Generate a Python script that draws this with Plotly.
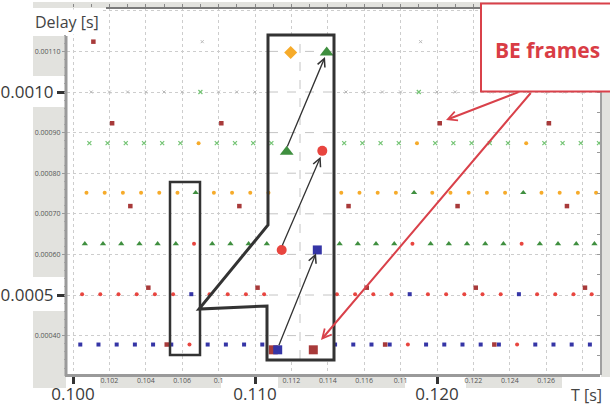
import plotly.graph_objects as go

# ---------------- data ----------------
# frame time T [s] and measured delay [s] per traffic class
gray_t = [0.101, 0.102, 0.103, 0.104, 0.105, 0.106, 0.108, 0.109, 0.110, 0.115, 0.116,
          0.117, 0.118, 0.120, 0.121, 0.122, 0.123, 0.124, 0.125, 0.126, 0.127, 0.128,
          0.1071, 0.1191]
gray_d = [0.00100, 0.00100, 0.00100, 0.00100, 0.00100, 0.00100, 0.00100, 0.00100, 0.00100,
          0.00100, 0.00100, 0.00100, 0.00100, 0.00100, 0.00100, 0.00100, 0.00100, 0.00100,
          0.00100, 0.00100, 0.00100, 0.00100, 0.001124, 0.001124]

greenx_t = [0.1009, 0.1019, 0.1029, 0.1039, 0.1049, 0.1059, 0.1079, 0.1089, 0.1099, 0.1109,
            0.1149, 0.1159, 0.1169, 0.1179, 0.1199, 0.1209, 0.1219, 0.1229, 0.1239, 0.1259,
            0.1269, 0.1279, 0.1289, 0.1070, 0.1190]
greenx_d = [0.000874, 0.000874, 0.000874, 0.000874, 0.000874, 0.000874, 0.000874, 0.000874,
            0.000874, 0.000874, 0.000874, 0.000874, 0.000874, 0.000874, 0.000874, 0.000874,
            0.000874, 0.000874, 0.000874, 0.000874, 0.000874, 0.000874, 0.000874,
            0.00100, 0.00100]

orange_t = [0.10074, 0.10174, 0.10274, 0.10374, 0.10474, 0.10574, 0.10774, 0.10874, 0.10974,
            0.11074, 0.11474, 0.11574, 0.11674, 0.11774, 0.11974, 0.12074, 0.12174, 0.12274,
            0.12374, 0.12574, 0.12674, 0.12774, 0.12874, 0.1069, 0.1189, 0.1249]
orange_d = [0.000752, 0.000752, 0.000752, 0.000752, 0.000752, 0.000752, 0.000752, 0.000752,
            0.000752, 0.000752, 0.000752, 0.000752, 0.000752, 0.000752, 0.000752, 0.000752,
            0.000752, 0.000752, 0.000752, 0.000752, 0.000752, 0.000752, 0.000752,
            0.000874, 0.000874, 0.000874]

greentri_t = [0.10065, 0.10165, 0.10265, 0.10365, 0.10465, 0.10565, 0.10765, 0.10865, 0.10965,
              0.11065, 0.11465, 0.11565, 0.11665, 0.11765, 0.11965, 0.12065, 0.12165, 0.12265,
              0.12365, 0.12565, 0.12665, 0.12765, 0.12865, 0.10674, 0.11874, 0.12474]
greentri_d = [0.000626, 0.000626, 0.000626, 0.000626, 0.000626, 0.000626, 0.000626, 0.000626,
              0.000626, 0.000626, 0.000626, 0.000626, 0.000626, 0.000626, 0.000626, 0.000626,
              0.000626, 0.000626, 0.000626, 0.000626, 0.000626, 0.000626, 0.000626,
              0.000752, 0.000752, 0.000752]

red_t = [0.1005, 0.1015, 0.1025, 0.1035, 0.1045, 0.1055, 0.1075, 0.1085, 0.1095, 0.1105,
         0.1145, 0.1155, 0.1165, 0.1175, 0.1195, 0.1205, 0.1215, 0.1225, 0.1235, 0.1255,
         0.1265, 0.1275, 0.1285, 0.10665, 0.11865, 0.12465, 0.1064, 0.1184, 0.1244]
red_d = [0.000502, 0.000502, 0.000502, 0.000502, 0.000502, 0.000502, 0.000502, 0.000502,
         0.000502, 0.000502, 0.000502, 0.000502, 0.000502, 0.000502, 0.000502, 0.000502,
         0.000502, 0.000502, 0.000502, 0.000502, 0.000502, 0.000502, 0.000502,
         0.000626, 0.000626, 0.000626, 0.000378, 0.000378, 0.000378]

blue_t = [0.1004, 0.1014, 0.1024, 0.1034, 0.1044, 0.1054, 0.1074, 0.1084, 0.1094, 0.1104,
          0.1144, 0.1154, 0.1164, 0.1174, 0.1194, 0.1204, 0.1214, 0.1224, 0.1234, 0.1254,
          0.1264, 0.1274, 0.1284, 0.1065, 0.1185, 0.1245]
blue_d = [0.000378, 0.000378, 0.000378, 0.000378, 0.000378, 0.000378, 0.000378, 0.000378,
          0.000378, 0.000378, 0.000378, 0.000378, 0.000378, 0.000378, 0.000378, 0.000378,
          0.000378, 0.000378, 0.000378, 0.000378, 0.000378, 0.000378, 0.000378,
          0.000502, 0.000502, 0.000502]

be_t = [0.10112, 0.10215, 0.10815, 0.12015, 0.12615, 0.10315, 0.10914, 0.11514, 0.12113,
        0.12714, 0.10414, 0.11014, 0.11614, 0.12213, 0.12813, 0.10515, 0.11715, 0.12315]
be_d = [0.001124, 0.000923, 0.000923, 0.000923, 0.000923, 0.000719, 0.000719, 0.000719,
        0.000719, 0.000719, 0.000518, 0.000518, 0.000518, 0.000518, 0.000518,
        0.000378, 0.000378, 0.000378]

# magnified view (inset)
inset_orange_t = [0.111962]
inset_orange_d = [0.001097]
inset_green_t = [0.113940, 0.111742]
inset_green_d = [0.001097, 0.000853]
inset_red_t = [0.113698, 0.111467]
inset_red_d = [0.000855, 0.000611]
inset_be_t = [0.111005, 0.113203]
inset_be_d = [0.000365, 0.000365]
inset_blue_t = [0.113423, 0.111247]
inset_blue_d = [0.000611, 0.000365]

# axis ticks
big_x_ticks = [0.100, 0.110, 0.120]
big_x_text = ["0.100", "0.110", "0.120"]
small_x_ticks = [0.102, 0.104, 0.106, 0.108, 0.112, 0.114, 0.116, 0.118, 0.122, 0.124, 0.126]
small_x_text = ["0.102", "0.104", "0.106", "0.1", "0.112", "0.114", "0.116", "0.11",
                "0.122", "0.124", "0.126"]
big_y_ticks = [0.0005, 0.0010]
big_y_text = ["0.0005", "0.0010"]
small_y_ticks = [0.0004, 0.0006, 0.0007, 0.0008, 0.0009, 0.0011]
small_y_text = ["0.00040", "0.00060", "0.00070", "0.00080", "0.00090", "0.00110"]

# ---------------- layout geometry ----------------
W, H = 610, 407
ML, MR, MT, MB = 67, 10, 8, 32
PW, PH = W - ML - MR, H - MT - MB
X_RANGE = [0.0996703, 0.1289560]
Y_RANGE = [0.00030296, 0.00120690]


def px(x):
    return (x - ML) / PW


def py(y):
    return (H - MB - y) / PH


def dx(x):
    return X_RANGE[0] + (x - ML) / PW * (X_RANGE[1] - X_RANGE[0])


def dy(y):
    return Y_RANGE[0] + (H - MB - y) / PH * (Y_RANGE[1] - Y_RANGE[0])


BLUE = "#3535a6"
RED = "#e8453f"
DRED = "#a83a3a"
ORANGE = "#f6ab2a"
GTRI = "#3f8f3f"
GX = "#74c474"
GRAYM = "#b8b8b8"
GRID = "#cdcdcd"
BAND = "#e2e2de"
DARK = "#333333"
CALL = "#d9414a"

fig = go.Figure()


def add(t, d, symbol, size, color, lw=0, xa="x", ya="y"):
    fig.add_trace(go.Scatter(
        x=t, y=d, mode="markers", xaxis=xa, yaxis=ya,
        marker=dict(symbol=symbol, size=size, color=color,
                    line=dict(width=lw, color=color)),
        hoverinfo="skip", showlegend=False))


add(gray_t, gray_d, "x-thin", 3, GRAYM, lw=1)
add(greenx_t, greenx_d, "x-thin", 4, GX, lw=1.2)
add(orange_t, orange_d, "circle", 4, ORANGE)
add(greentri_t, greentri_d, "triangle-up", 5.5, GTRI)
add(red_t, red_d, "circle", 4, RED)
add(blue_t, blue_d, "square", 4, BLUE)
add(be_t, be_d, "square", 4.5, DRED)

add(inset_orange_t, inset_orange_d, "diamond", 10, ORANGE)
add(inset_green_t, inset_green_d, "triangle-up", 12, GTRI)
add(inset_red_t, inset_red_d, "circle", 10, RED)
add(inset_be_t, inset_be_d, "square", 9, DRED)
add(inset_blue_t, inset_blue_d, "square", 9, BLUE)

# empty traces so that the overlay axes get drawn
for xa, ya in [("x2", "y"), ("x3", "y"), ("x", "y2"), ("x", "y3")]:
    fig.add_trace(go.Scatter(x=[None], y=[None], xaxis=xa, yaxis=ya, mode="markers",
                             hoverinfo="skip", showlegend=False))

shapes = []
# grey label bands
for (x0, y0, x1, y1) in [(33, 36, 66, 76), (33, 107, 66, 277), (33, 311, 66, 388),
                         (100, 376.5, 221, 388), (278, 376.5, 405, 388),
                         (466, 376.5, 562, 388), (33, 2, 600, 8), (601, 91, 615, 377)]:
    shapes.append(dict(type="rect", xref="paper", yref="paper", layer="below",
                       x0=px(x0), x1=px(x1), y0=py(y1), y1=py(y0),
                       fillcolor=BAND, line=dict(width=0)))

# inset white panel hides the grid
shapes.append(dict(type="rect", xref="x", yref="y", layer="between",
                   x0=dx(268), x1=dx(334), y0=dy(360), y1=dy(35),
                   fillcolor="white", line=dict(width=0)))
for g in [0.0004, 0.0005, 0.0006, 0.0007, 0.0008, 0.0009, 0.0010, 0.0011]:
    shapes.append(dict(type="line", xref="x", yref="y", layer="between",
                       x0=dx(269), x1=dx(333), y0=g, y1=g,
                       line=dict(color="#c4c4c4", width=1, dash="dash")))
shapes.append(dict(type="line", xref="x", yref="y", layer="between",
                   x0=dx(300), x1=dx(300), y0=dy(359), y1=dy(36),
                   line=dict(color="#c4c4c4", width=1, dash="dash")))

# axis lines
shapes.append(dict(type="line", xref="paper", yref="paper", layer="above",
                   x0=px(66), x1=px(66), y0=py(376), y1=py(36),
                   line=dict(color="#9a9a9a", width=3)))
shapes.append(dict(type="line", xref="paper", yref="paper", layer="above",
                   x0=px(65), x1=px(600), y0=py(375.5), y1=py(375.5),
                   line=dict(color="#9a9a9a", width=3)))
shapes.append(dict(type="line", xref="paper", yref="paper", layer="above",
                   x0=px(106), x1=px(600), y0=py(8), y1=py(8),
                   line=dict(color="#7a7a7a", width=2)))

# small selection rectangle
shapes.append(dict(type="rect", xref="paper", yref="paper", layer="above",
                   x0=px(170), x1=px(200), y0=py(355), y1=py(182),
                   line=dict(color=DARK, width=2.5)))
# inset outline with funnel
pts = [(268, 35), (334, 35), (334, 360), (267, 360), (267, 306), (199, 309), (268, 225)]
path = "M " + " L ".join(f"{px(a):.5f},{py(b):.5f}" for a, b in pts) + " Z"
shapes.append(dict(type="path", xref="paper", yref="paper", layer="above", path=path,
                   line=dict(color=DARK, width=3)))
# callout box
shapes.append(dict(type="rect", xref="paper", yref="paper", layer="above",
                   x0=px(481), x1=px(616), y0=py(91.5), y1=py(3.5),
                   fillcolor="white", line=dict(color=CALL, width=2)))

annotations = [
    dict(xref="paper", yref="paper", x=px(33), y=py(22), xanchor="left", yanchor="middle",
         text="Delay [s]", showarrow=False, bgcolor="white",
         font=dict(size=16, color="#444", family="Open Sans")),
    dict(xref="paper", yref="paper", x=px(586), y=py(395), xanchor="center", yanchor="middle",
         text="T [s]", showarrow=False, font=dict(size=16, color="#444", family="Open Sans")),
    dict(xref="paper", yref="paper", x=px(547), y=py(50), xanchor="center", yanchor="middle",
         text="<b>BE frames</b>", showarrow=False,
         font=dict(size=21, color="#d93d45", family="Open Sans")),
]


def arrow(hx, hy, tx, ty, color, width, size):
    return dict(xref="paper", yref="paper", x=px(hx), y=py(hy), ax=tx - hx, ay=ty - hy,
                text="", showarrow=True, arrowhead=5, arrowsize=size, arrowwidth=width,
                arrowcolor=color, standoff=0, startstandoff=0)


annotations += [
    arrow(446, 120, 520, 91.5, CALL, 2, 0.9),
    arrow(321, 340, 532, 91.5, CALL, 2, 0.9),
    arrow(325, 57, 286.7, 148, DARK, 1.3, 1.2),
    arrow(320.7, 156.7, 281.7, 246.7, DARK, 1.3, 1.2),
    arrow(316, 253.3, 278.3, 346.7, DARK, 1.3, 1.2),
]

fig.update_layout(
    width=W, height=H, template="none", showlegend=False,
    margin=dict(l=ML, r=MR, t=MT, b=MB, pad=0),
    paper_bgcolor="white", plot_bgcolor="white",
    font=dict(family="Open Sans", color="#333"),
    xaxis=dict(range=X_RANGE, tickmode="array", tickvals=big_x_ticks, ticktext=big_x_text,
               ticks="outside", ticklen=8, tickwidth=3, tickcolor=DARK,
               ticklabelstandoff=-4,
               tickfont=dict(size=17, color="#3a3a3a"),
               showgrid=True, gridcolor=GRID, griddash="dot", gridwidth=1,
               zeroline=False, showline=False, automargin=False,
               minor=dict(tickmode="linear", tick0=0.1, dtick=0.002, showgrid=True,
                          gridcolor=GRID, griddash="dot", gridwidth=1, ticks="")),
    xaxis2=dict(overlaying="x", anchor="y", side="bottom", range=X_RANGE,
                tickmode="array", tickvals=small_x_ticks, ticktext=small_x_text,
                ticks="", tickfont=dict(size=7, color="#555"),
                showgrid=False, zeroline=False, showline=False, automargin=False),
    xaxis3=dict(overlaying="x", anchor="y", side="top", range=X_RANGE,
                tickmode="linear", tick0=0.1, dtick=0.001, ticks="outside", ticklen=3,
                tickcolor="#888", showticklabels=False, showgrid=False, zeroline=False,
                showline=False, automargin=False),
    yaxis=dict(range=Y_RANGE, tickmode="array", tickvals=big_y_ticks, ticktext=big_y_text,
               ticks="outside", ticklen=9, tickwidth=3, tickcolor=DARK,
               tickfont=dict(size=17, color="#3a3a3a"),
               showgrid=True, gridcolor=GRID, griddash="dot", gridwidth=1,
               zeroline=False, showline=False, automargin=False,
               minor=dict(tickmode="linear", tick0=0.0003, dtick=0.0001, showgrid=True,
                          gridcolor=GRID, griddash="dot", gridwidth=1, ticks="")),
    yaxis2=dict(overlaying="y", anchor="x", side="left", range=Y_RANGE,
                tickmode="array", tickvals=small_y_ticks, ticktext=small_y_text,
                ticks="outside", ticklen=4, tickcolor="#999",
                tickfont=dict(size=7, color="#555"),
                minor=dict(tickmode="linear", tick0=0.0003, dtick=0.00002, ticks="outside",
                           ticklen=2, tickcolor="#aaa"),
                showgrid=False, zeroline=False, showline=False, automargin=False),
    yaxis3=dict(overlaying="y", anchor="x", side="right", range=Y_RANGE,
                tickmode="linear", tick0=0.0003, dtick=0.00005, ticks="inside", ticklen=3,
                tickcolor="#999", showticklabels=False, showline=True, linecolor="#a0a0a0",
                linewidth=2, showgrid=False, zeroline=False, automargin=False),
    shapes=shapes,
    annotations=annotations,
)

fig.write_html("out.html")
